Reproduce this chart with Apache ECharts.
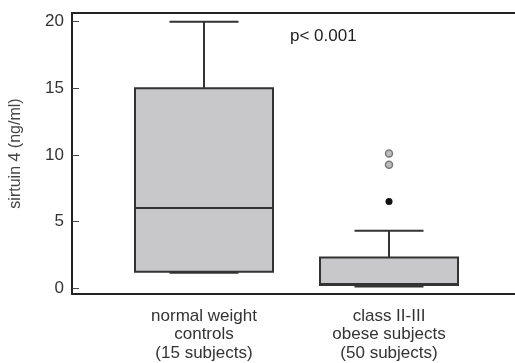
<!DOCTYPE html>
<html><head><meta charset="utf-8">
<script src="https://cdn.jsdelivr.net/npm/echarts@6/dist/echarts.min.js"></script>
<style>html,body{margin:0;padding:0;background:#fff}#c{width:515px;height:363px}</style>
</head><body><div id="c"></div>
<script>
const categories = ['normal weight\ncontrols\n(15 subjects)', 'class II-III\nobese subjects\n(50 subjects)'];
const categoryPos = [1, 2];
const boxMin = [1.15, 0.12];
const boxQ1 = [1.22, 0.22];
const boxMedian = [6.0, 0.3];
const boxQ3 = [15.0, 2.3];
const boxMax = [20.0, 4.3];
const outlierGrayX = [2, 2];
const outlierGrayY = [10.1, 9.25];
const outlierBlackX = [2];
const outlierBlackY = [6.5];
const yTicks = [0, 5, 10, 15, 20];
const yAxisName = 'sirtuin 4 (ng/ml)';
const pText = 'p< 0.001';

const boxData = categoryPos.map((x, i) => [x, boxMin[i], boxQ1[i], boxMedian[i], boxQ3[i], boxMax[i]]);
const grayData = outlierGrayX.map((x, i) => [x, outlierGrayY[i]]);
const blackData = outlierBlackX.map((x, i) => [x, outlierBlackY[i]]);

const FONT = 'Liberation Sans, Arial, sans-serif';
function renderItem(params, api) {
  const x = api.value(0);
  const pMin = api.coord([x, api.value(1)]);
  const pQ1 = api.coord([x, api.value(2)]);
  const pMed = api.coord([x, api.value(3)]);
  const pQ3 = api.coord([x, api.value(4)]);
  const pMax = api.coord([x, api.value(5)]);
  const hw = 69, cw = 34.5;
  const cx = pQ1[0];
  const stroke = { stroke: '#333', lineWidth: 2, fill: null };
  return { type: 'group', children: [
    { type: 'line', shape: { x1: cx, y1: pQ3[1], x2: cx, y2: pMax[1] }, style: stroke },
    { type: 'line', shape: { x1: cx - cw, y1: pMax[1], x2: cx + cw, y2: pMax[1] }, style: stroke },
    { type: 'line', shape: { x1: cx, y1: pQ1[1], x2: cx, y2: pMin[1] }, style: stroke },
    { type: 'line', shape: { x1: cx - cw, y1: pMin[1], x2: cx + cw, y2: pMin[1] }, style: stroke },
    { type: 'rect', shape: { x: cx - hw, y: pQ3[1], width: 2 * hw, height: pQ1[1] - pQ3[1] }, style: { fill: '#c8c8ca', stroke: '#333', lineWidth: 2 } },
    { type: 'line', shape: { x1: cx - hw, y1: pMed[1], x2: cx + hw, y2: pMed[1] }, style: stroke }
  ]};
}

const chart = echarts.init(document.getElementById('c'), null, { renderer: 'canvas' });
chart.setOption({
  animation: false,
  backgroundColor: '#fff',
  title: { text: pText, left: 285, top: 23, textStyle: { fontSize: 17, fontWeight: 'normal', color: '#222', fontFamily: FONT } },
  grid: { left: 72, right: 0, top: 13, bottom: 69 },
  xAxis: [{
    type: 'value', min: 0.2865, max: 2.681,
    axisLine: { onZero: false, lineStyle: { color: '#222', width: 2 } },
    axisTick: { show: false }, splitLine: { show: false },
    axisLabel: {
      customValues: categoryPos,
      formatter: v => categories[categoryPos.indexOf(v)] || '',
      margin: 13, fontSize: 17, lineHeight: 18.5, color: '#333', fontFamily: FONT
    }
  }, {
    type: 'value', position: 'top', min: 0.2865, max: 2.681,
    axisLine: { show: true, onZero: false, lineStyle: { color: '#222', width: 2 } },
    axisTick: { show: false }, axisLabel: { show: false }, splitLine: { show: false }
  }],
  yAxis: {
    type: 'value', min: -0.45, max: 20.65,
    name: yAxisName, nameLocation: 'middle', nameGap: 48,
    nameTextStyle: { fontSize: 16, color: '#444', fontFamily: FONT },
    axisLine: { onZero: false, lineStyle: { color: '#222', width: 2 } },
    axisTick: { inside: true, length: 7, customValues: yTicks, lineStyle: { color: '#444', width: 1 } },
    axisLabel: { customValues: yTicks, margin: 8, fontSize: 17, color: '#333', fontFamily: FONT },
    splitLine: { show: false }
  },
  series: [
    { type: 'custom', renderItem: renderItem, data: boxData, encode: { x: 0, y: [1, 2, 3, 4, 5] }, clip: false },
    { type: 'scatter', data: grayData, symbolSize: 7, itemStyle: { color: '#bdbdbd', borderColor: '#7a7a7a', borderWidth: 1.5, opacity: 1 } },
    { type: 'scatter', data: blackData, symbolSize: 7, itemStyle: { color: '#111', opacity: 1 } }
  ]
});
</script></body></html>
